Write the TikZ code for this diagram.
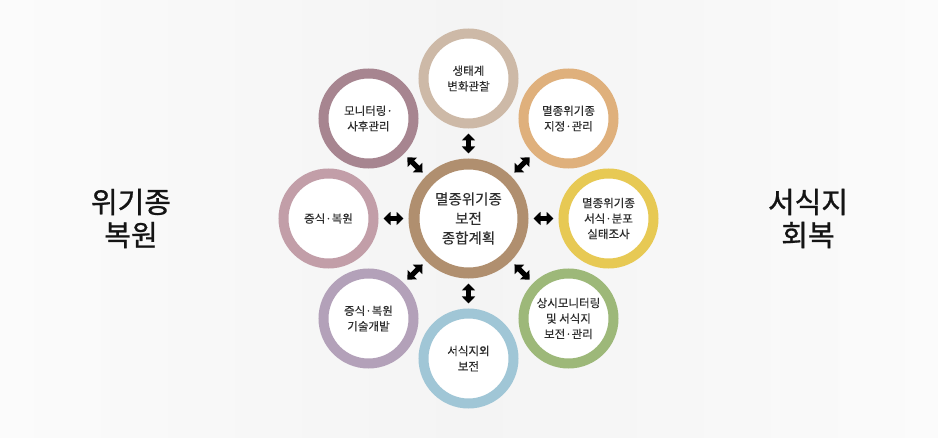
\documentclass[tikz,border=0pt]{standalone}
\usepackage{fontspec}
\setmainfont{Noto Sans CJK KR}[FakeBold=0.25]
\newfontfamily\bigfont{Noto Sans CJK KR}[FakeBold=0.9]
\usetikzlibrary{arrows.meta}
\definecolor{bgside}{RGB}{251,251,251}
\definecolor{bgmid}{RGB}{244,244,244}
\definecolor{txt}{RGB}{45,45,45}
\definecolor{cTop}{RGB}{205,185,167}
\definecolor{cTL}{RGB}{167,133,144}
\definecolor{cTR}{RGB}{223,176,124}
\definecolor{cL}{RGB}{194,158,168}
\definecolor{cR}{RGB}{231,201,84}
\definecolor{cBL}{RGB}{179,161,185}
\definecolor{cB}{RGB}{160,198,214}
\definecolor{cBR}{RGB}{157,184,121}
\definecolor{cC}{RGB}{176,143,111}
\begin{document}
\begin{tikzpicture}[x=1pt,y=-1pt,
  ring/.style={circle,draw=#1,line width=10pt,fill=white,minimum size=90pt,inner sep=0pt,
    align=center,text=txt,font=\fontsize{11.5}{15.5}\selectfont},
  hub/.style={circle,draw=cC,line width=11pt,fill=white,minimum size=109pt,inner sep=0pt,
    align=center,text=txt,font=\fontsize{14.5}{19.5}\selectfont},
  biglabel/.style={align=center,text=black!92,font=\bigfont\fontsize{29}{33}\selectfont},
  dblarr/.style={line width=5pt,{Triangle[width=13pt,length=7pt]}-{Triangle[width=13pt,length=7pt]},
    shorten <=5pt,shorten >=5pt}]
\useasboundingbox (0,0) rectangle (938,438);
\shade[left color=bgside,right color=bgside,middle color=bgmid] (0,0) rectangle (938,438);

\node[hub] (c) at (468.5,218.5) {멸종위기종\\보전\\종합계획};

\node[ring=cTop] (t)  at (468.5,78.5)  {생태계\\변화관찰};
\node[ring=cTL]  (tl) at (368.5,118.5) {모니터링·\\사후관리};
\node[ring=cTR]  (tr) at (568.5,118.5) {멸종위기종\\지정·관리};
\node[ring=cL]   (l)  at (328.5,218.5) {증식·복원};
\node[ring=cR]   (r)  at (608.5,218.5) {멸종위기종\\서식·분포\\실태조사};
\node[ring=cBL]  (bl) at (368.5,318.5) {증식·복원\\기술개발};
\node[ring=cB]   (b)  at (468.5,358.5) {서식지외\\보전};
\node[ring=cBR]  (br) at (568.5,318.5) {상시모니터링\\및 서식지\\보전·관리};

\foreach \s in {t,tl,tr,l,r,bl,b,br}
  \draw[dblarr] (c) -- (\s);

\node[biglabel] (lw) at (131,218.5) {위기종\\복원};
\node[biglabel] (rw) at (808,218.5) {서식지\\회복};
\end{tikzpicture}
\end{document}
